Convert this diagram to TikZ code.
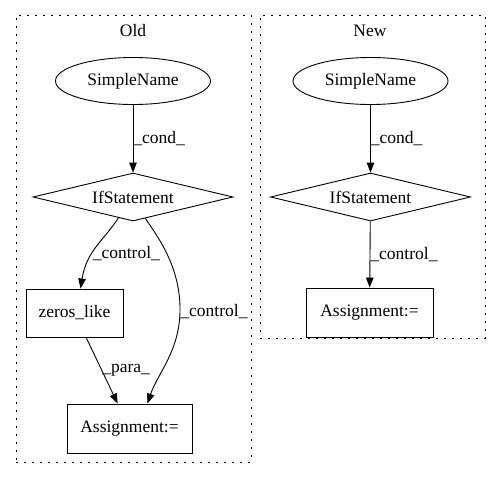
\documentclass[tikz,border=0pt]{standalone}
\usepackage{fontspec}
\setmainfont{Liberation Serif}
\usetikzlibrary{shapes,arrows.meta,positioning}

\begin{document}
\begin{tikzpicture}[
    x=1pt, y=-1pt,
    font=\fontsize{17.5}{20}\selectfont,
    cluster/.style={rectangle, draw, dash pattern=on 1.6pt off 6.4pt, line width=1pt, inner sep=0pt},
    ident/.style={ellipse, draw, line width=0.9pt, minimum width=155pt, minimum height=47pt, inner sep=0pt},
    branch/.style={diamond, draw, line width=0.9pt, aspect=4.17, minimum width=200pt, minimum height=48pt, inner sep=0pt},
    stmt/.style={rectangle, draw, line width=0.9pt, minimum height=48pt, inner sep=0pt},
    edge/.style={-{Triangle[length=10pt, width=7.5pt]}, line width=0.9pt},
    lbl/.style={right, inner sep=0pt}
]
\useasboundingbox (0,0) rectangle (496,480);

% Old cluster
\node[cluster, minimum width=235pt, minimum height=447pt] (old) at (133.5,238.5) {};
\node (oldtitle) at (133,31) {Old};
\node[ident] (nameold) at (133,81) {SimpleName};
\node[branch] (ifold) at (133,197) {IfStatement};
\node[stmt, minimum width=97pt] (zeros) at (74.5,313) {zeros\_like};
\node[stmt, minimum width=125pt, minimum height=49pt] (assignold) at (129.5,428.5) {Assignment:=};

% New cluster
\node[cluster, minimum width=225pt, minimum height=323pt] (new) at (372.5,176.5) {};
\node (newtitle) at (370,31) {New};
\node[ident] (namenew) at (370.5,81) {SimpleName};
\node[branch] (ifnew) at (370.5,197) {IfStatement};
\node[stmt, minimum width=127pt, minimum height=49pt] (assignnew) at (369.5,312.5) {Assignment:=};

% Arrows
\draw[edge] (nameold) -- node[lbl] {\_cond\_} (ifold);
\draw[edge] (ifold.-125) .. controls +(-14,22) and +(6,-38) .. node[lbl, pos=0.6] {\_control\_} ([xshift=6pt]zeros.north);
\draw[edge] (ifold.-60) .. controls +(12,18) and +(1,-45) .. (180,312) node[lbl] {\_control\_}
    .. controls +(-1,40) and +(10,-30) .. ([xshift=18pt]assignold.north);
\draw[edge] (zeros) -- node[lbl] {\_para\_} (assignold);
\draw[edge] (namenew) -- node[lbl] {\_cond\_} (ifnew);
\draw[edge] (ifnew) -- node[lbl] {\_control\_} (assignnew);

\end{tikzpicture}
\end{document}
